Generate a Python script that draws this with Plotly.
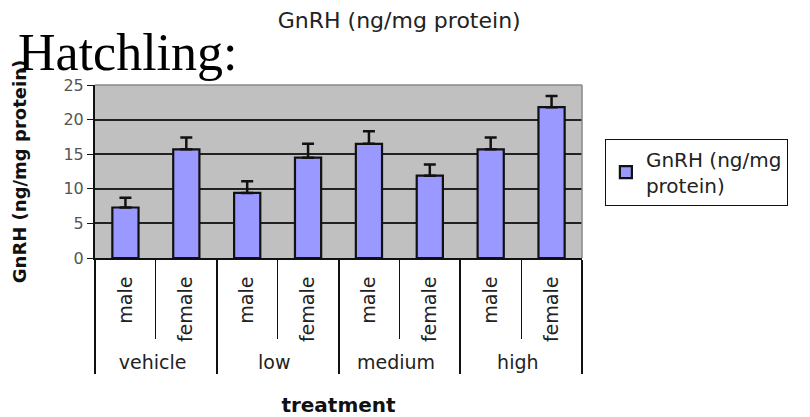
import plotly.graph_objects as go

treatments = ["vehicle", "vehicle", "low", "low", "medium", "medium", "high", "high"]
sexes = ["male", "female", "male", "female", "male", "female", "male", "female"]
gnrh = [7.3, 15.7, 9.4, 14.5, 16.5, 11.9, 15.7, 21.8]
gnrh_err = [1.4, 1.7, 1.7, 2.0, 1.8, 1.6, 1.7, 1.6]

bars = go.Bar(
    x=[treatments, sexes],
    y=gnrh,
    name="GnRH (ng/mg<br>protein)",
    width=0.43,
    marker=dict(color="#9999ff", line=dict(color="#111111", width=2.2)),
    error_y=dict(type="data", symmetric=False, array=gnrh_err,
                 arrayminus=[0] * len(gnrh_err),
                 color="#111111", thickness=2.5, width=6),
    showlegend=True,
)

fig = go.Figure(data=bars)

# page body has an 8px margin, so the figure is nudged up/left by 8px
fig.update_layout(
    width=810, height=417,
    margin=dict(l=87, r=236, t=77, b=167),
    paper_bgcolor="white",
    plot_bgcolor="#c0c0c0",
    font=dict(family="DejaVu Sans, Arial", color="#222222"),
    title=dict(text="GnRH (ng/mg protein)", x=0.483, xanchor="center",
               y=0.971, yanchor="middle", font=dict(size=22, color="#222222")),
    showlegend=True,
    legend=dict(x=1.047, y=0.69, xanchor="left", yanchor="top",
                bordercolor="#111111", borderwidth=1,
                font=dict(size=20, color="#222222"), bgcolor="white"),
)

fig.update_yaxes(
    range=[0, 25], dtick=5,
    showgrid=True, gridcolor="#222222", gridwidth=1.5,
    showline=True, linecolor="#111111", linewidth=2,
    ticks="outside", ticklen=6, tickcolor="#111111",
    tickfont=dict(size=16, color="#555555"),
    zeroline=False, automargin=False,
    title=dict(text="<b>GnRH (ng/mg protein)</b>", standoff=32,
               font=dict(size=18, color="#111111")),
)

fig.update_xaxes(
    type="multicategory",
    showline=True, linecolor="#111111", linewidth=2,
    tickangle=-90,
    tickfont=dict(size=19, color="#222222"),
    ticklabelstandoff=9,
    ticks="outside", tickson="boundaries", ticklen=79, tickcolor="#111111",
    showdividers=True, dividercolor="#111111", dividerwidth=1.5,
    automargin=False,
    title=dict(text="<b>treatment</b>", standoff=26,
               font=dict(size=20, color="#111111")),
)

# thin border on top and right of plot area
fig.add_shape(type="line", xref="paper", yref="paper", x0=0, x1=1, y0=1, y1=1,
              line=dict(color="#888888", width=1.5))
fig.add_shape(type="line", xref="paper", yref="paper", x0=1, x1=1, y0=0, y1=1,
              line=dict(color="#888888", width=1.5))

fig.add_annotation(text="Hatchling:", xref="paper", yref="paper",
                   x=-0.162, y=1.19, xanchor="left", yanchor="middle",
                   showarrow=False,
                   font=dict(family="Liberation Serif, Times New Roman", size=52,
                             color="black"))

fig.write_html("out.html")
